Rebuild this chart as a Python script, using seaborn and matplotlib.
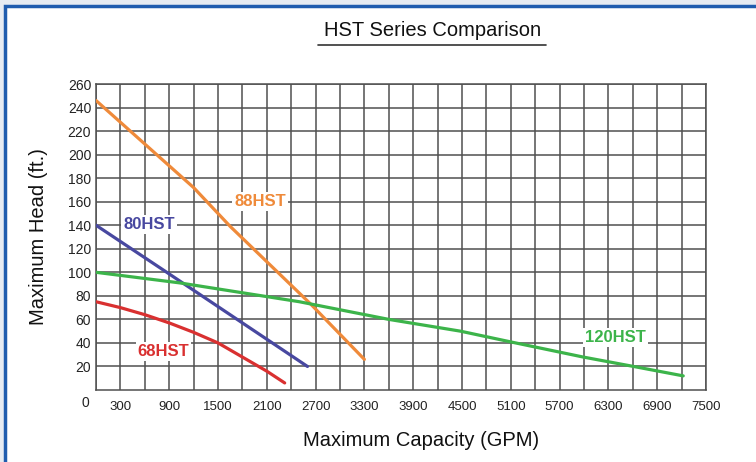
import pandas as pd
import matplotlib.pyplot as plt
from matplotlib.patches import Rectangle
import seaborn as sns

# pump curves (GPM, ft)
gpm_88 = [0, 1200, 1650, 2640, 3300]
head_88 = [246, 172, 139, 73, 26]
gpm_80 = [0, 870, 1800, 2600]
head_80 = [140, 100, 57, 20]
gpm_68 = [0, 300, 600, 900, 1200, 1500, 1800, 2100, 2320]
head_68 = [75, 70, 64, 57, 49, 40, 28, 16, 6]
gpm_120 = [0, 1030, 2500, 3600, 4480, 5090, 5990, 6610, 7220]
head_120 = [100, 91, 75, 60, 50, 41, 28, 20, 12]

models = ["88HST", "80HST", "68HST", "120HST"]
colors = {"88HST": "#ef8a3a", "80HST": "#4848a0", "68HST": "#d93030", "120HST": "#3cb44a"}
label_x = [2020, 650, 830, 6390]
label_y = [160, 141, 33, 45]

x_ticks = list(range(300, 7501, 600))
y_ticks = list(range(20, 261, 20))

frames = []
for name, xs, ys in [("88HST", gpm_88, head_88), ("80HST", gpm_80, head_80),
                     ("68HST", gpm_68, head_68), ("120HST", gpm_120, head_120)]:
    frames.append(pd.DataFrame({"gpm": xs, "head": ys, "model": name}))
df = pd.concat(frames, ignore_index=True)

sns.set_style("white")
plt.rcParams['font.family'] = ['Liberation Sans', 'DejaVu Sans']

fig = plt.figure(figsize=(7.56, 4.62), dpi=100, facecolor="#e6ebf2")
frame = Rectangle((5 / 756, -0.2), 1.2, 1 - 6 / 462 + 0.2, transform=fig.transFigure,
                  facecolor="white", edgecolor="#1f5cae", linewidth=2.5, zorder=-5)
fig.patches.append(frame)
ax = fig.add_axes([96 / 756, 1 - 390 / 462, 610 / 756, 306 / 462])
ax.set_zorder(2)

sns.lineplot(data=df, x="gpm", y="head", hue="model", palette=colors, sort=False,
             estimator=None, linewidth=2.3, legend=False, ax=ax, zorder=3)

ax.set_xlim(0, 7500)
ax.set_ylim(0, 260)
ax.set_xticks(range(0, 7501, 300), minor=True)
ax.set_xticks(x_ticks)
ax.set_yticks(y_ticks)
ax.grid(True, which="both", color="#505050", linewidth=1.1, zorder=1)
ax.set_axisbelow(True)
for s in ax.spines.values():
    s.set_color("#505050")
    s.set_linewidth(1.1)
ax.tick_params(axis="x", which="both", length=0, pad=8, labelsize=9.5, colors="#222222")
ax.tick_params(axis="y", length=3, width=1, color="#505050", pad=0.5, labelsize=10, labelcolor="#222222")
ax.text(-130, -11, "0", ha="center", va="center", fontsize=10, color="#222222")

for name, lx, ly in zip(models, label_x, label_y):
    ax.text(lx, ly, name, color=colors[name], fontsize=12, fontweight="bold",
            ha="center", va="center", zorder=4,
            bbox=dict(facecolor="white", edgecolor="none", pad=1.5))

ax.set_xlabel("Maximum Capacity (GPM)", fontsize=14.5, color="#111111")
ax.xaxis.set_label_coords(0.533, -0.134)
ax.set_ylabel("Maximum Head (ft.)", fontsize=14.5, labelpad=14, color="#111111")

fig.text(433 / 756, 1 - 30 / 462, "HST Series Comparison", ha="center", va="center",
         fontsize=14.5, color="#111111")
fig.add_artist(plt.Line2D([318 / 756, 546 / 756], [1 - 45 / 462, 1 - 45 / 462],
                          color="#333333", linewidth=1.2))

fig.savefig("out.png", dpi=100, facecolor=fig.get_facecolor())
